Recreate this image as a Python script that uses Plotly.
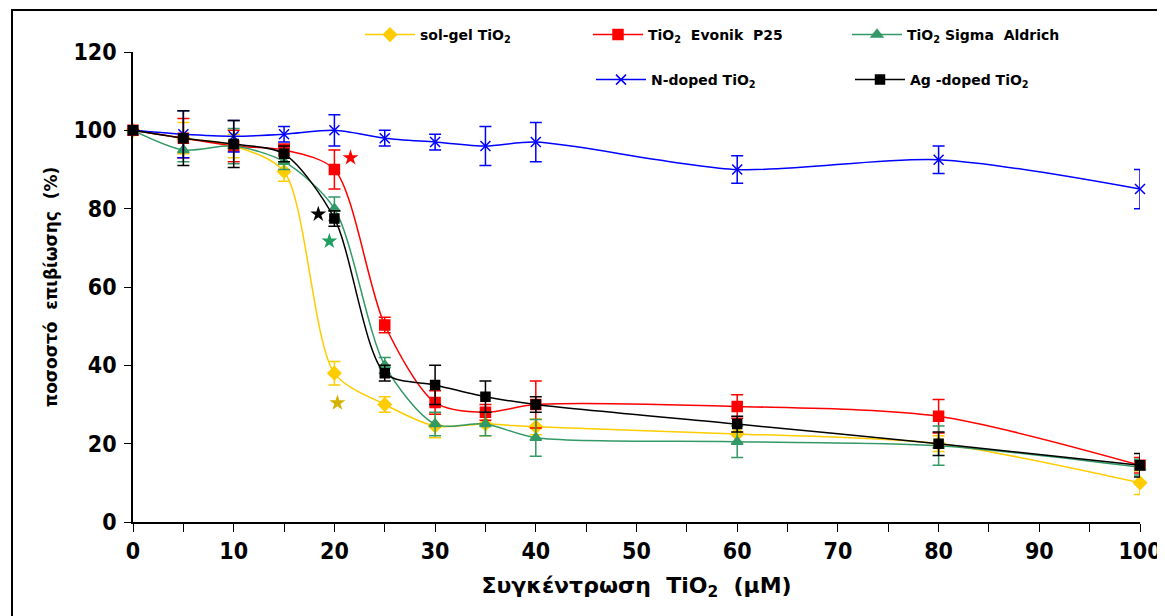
import plotly.graph_objects as go

x_conc = [0, 5, 10, 15, 20, 25, 30, 35, 40, 60, 80, 100]

solgel = [100, 98, 96, 89.5, 38, 30, 24.5, 25, 24.3, 22.5, 20, 10]
solgel_err = [0, 4, 3, 2.5, 3, 2, 3, 3, 2, 2, 2, 3]

evonik = [100, 98, 96, 95, 90, 50.3, 30.5, 28, 30, 29.5, 27, 14.5]
evonik_err = [0, 5, 4, 1.5, 5, 2, 3, 2, 6, 3, 4.3, 2]

sigma = [100, 95, 96, 92, 80, 40, 25, 25, 21.5, 20.5, 19.5, 14]
sigma_err = [0, 3, 4.5, 2, 3, 2, 3, 3, 4.7, 4, 5, 2]

ndoped = [100, 99, 98.5, 99, 100, 98, 97, 96, 97, 90, 92.5, 85]
ndoped_err = [0, 6, 4, 2, 4, 2, 2, 5, 5, 3.5, 3.5, 5]

agdoped = [100, 98, 96.5, 94, 77.5, 38, 35, 32, 30, 25, 20, 14.5]
agdoped_err = [0, 7, 6, 2, 2, 2, 5, 4, 2, 2, 3, 3]

star_x = [21.6, 18.4, 19.5, 20.3]
star_y = [93, 78.6, 71.7, 30.4]
star_colors = ["#FF0000", "#000000", "#1FA060", "#D4B000"]

x_ticks = [0, 10, 20, 30, 40, 50, 60, 70, 80, 90, 100]
y_ticks = [0, 20, 40, 60, 80, 100, 120]

series = [
    ("sol-gel TiO<sub>2</sub>", solgel, solgel_err, "#FFCC00", "diamond", 10, "legend"),
    ("TiO<sub>2</sub>  Evonik  P25", evonik, evonik_err, "#FF0000", "square", 10, "legend2"),
    ("TiO<sub>2</sub> Sigma  Aldrich", sigma, sigma_err, "#339966", "triangle-up", 10, "legend3"),
    ("N-doped TiO<sub>2</sub>", ndoped, ndoped_err, "#0000FF", "x-thin", 10, "legend4"),
    ("Ag -doped TiO<sub>2</sub>", agdoped, agdoped_err, "#000000", "square", 9, "legend5"),
]

fig = go.Figure()
for name, ys, errs, col, sym, sz, lg in series:
    fig.add_trace(go.Scatter(
        x=x_conc, y=ys, name=name, mode="lines+markers",
        line=dict(color=col, width=1.5, shape="spline", smoothing=0.8),
        marker=dict(color=col, symbol=sym, size=sz,
                    line=dict(color=col, width=1.5)),
        error_y=dict(type="data", array=errs, visible=True, color=col,
                     thickness=1.5, width=6),
        cliponaxis=False, legend=lg,
    ))

fig.add_trace(go.Scatter(
    x=star_x, y=star_y, mode="markers", showlegend=False,
    marker=dict(symbol="star", size=12, color=star_colors),
    cliponaxis=False,
))

# page body has an 8px margin; all screen targets are shifted by it
OFF = 8
W, H = 1165 - OFF, 616 - OFF
L, R, T, B = 133 - OFF, 25, 52 - OFF, 94
pw, ph = W - L - R, H - T - B

def px_x(sx):
    return (sx - OFF - L) / pw

def px_y(sy):
    return (H - B - (sy - OFF)) / ph

legfont = dict(family="DejaVu Sans", size=14, color="black", weight="bold")
ITEMW = 50
TXT_OFF = 60
legpos = {
    "legend": (420, 35),
    "legend2": (648, 35),
    "legend3": (907, 35),
    "legend4": (651, 80),
    "legend5": (910, 80),
}
leg_layout = {}
for k, (tx, ty) in legpos.items():
    leg_layout[k] = dict(x=px_x(tx - TXT_OFF), y=px_y(ty), xanchor="left", yanchor="middle",
                         bgcolor="rgba(0,0,0,0)", borderwidth=0,
                         font=legfont, itemwidth=ITEMW)

tickf = dict(family="DejaVu Sans Condensed, DejaVu Sans", size=23, color="black", weight="bold")

fig.update_layout(
    width=W, height=H,
    margin=dict(l=L, r=R, t=T, b=B, pad=0, autoexpand=False),
    paper_bgcolor="white", plot_bgcolor="white",
    **leg_layout,
    xaxis=dict(
        automargin=False,
        range=[0, 100], tickvals=x_ticks, ticks="outside", ticklen=8,
        tickwidth=1.2, tickcolor="black",
        minor=dict(dtick=5, ticks="outside", ticklen=8, tickwidth=1.2, tickcolor="black"),
        showline=True, linecolor="black", linewidth=1.5, showgrid=False, zeroline=False,
        tickfont=tickf, ticklabelstandoff=0,
        title=dict(text="Συγκέντρωση  TiO<sub>2</sub>  (μM)", standoff=14,
                   font=dict(family="DejaVu Sans", size=22, color="black", weight="bold")),
    ),
    yaxis=dict(
        automargin=False,
        range=[0, 120], tickvals=y_ticks, ticks="outside", ticklen=7,
        tickwidth=1.2, tickcolor="black",
        showline=True, linecolor="black", linewidth=1.5, showgrid=False, zeroline=False,
        tickfont=tickf, ticklabelstandoff=3,
        title=dict(text="ποσοστό  επιβίωσης  (%)", standoff=11,
                   font=dict(family="DejaVu Sans", size=17, color="black", weight="bold")),
    ),
    shapes=[dict(type="rect", xref="paper", yref="paper",
                 x0=px_x(12), x1=px_x(1160),
                 y0=px_y(620), y1=px_y(10),
                 line=dict(color="black", width=2))],
)

fig.write_html("out.html")
